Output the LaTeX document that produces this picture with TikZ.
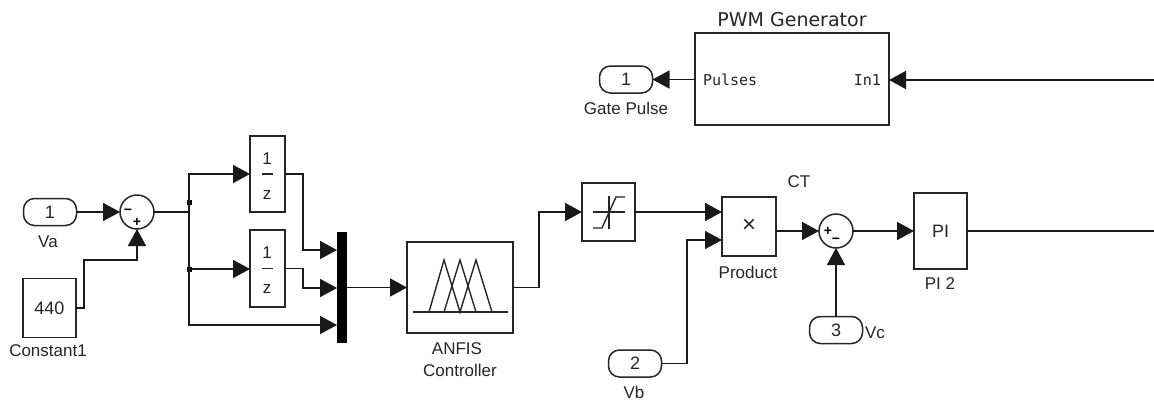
\documentclass[tikz,border=0pt]{standalone}
\usepackage{fontspec}
\setmainfont{Liberation Sans}
\newfontfamily\monofam{DejaVu Sans Mono}
\newfontfamily\dejafam{DejaVu Sans}
\usetikzlibrary{arrows.meta}
\tikzset{
  txt/.style={inner sep=0pt,outer sep=0pt,font=\fontsize{17}{17}\selectfont,text=black!85},
  blockbox/.style={draw=black!85,line width=1.8pt,inner sep=0pt,outer sep=0pt,font=\fontsize{18}{18}\selectfont,text=black!85},
  port/.style={blockbox,line width=1.5pt,rounded corners=11pt,minimum width=53pt,minimum height=27pt},
  sumc/.style={blockbox,line width=1.5pt,shape=circle,minimum size=34pt},
  sig/.style={line width=1.7pt,draw=black!90,-{Triangle[length=17pt,width=18pt]}},
  wire/.style={line width=1.7pt,draw=black!90},
  icon/.style={line width=1.4pt,draw=black!85},
  dot/.style={fill=black,inner sep=0pt,minimum size=5pt,outer sep=0pt},
  sgn/.style={inner sep=0pt,outer sep=0pt,font=\bfseries\fontsize{14}{14}\selectfont}
}
\begin{document}
\begin{tikzpicture}[x=1pt,y=-1pt]
\path[use as bounding box,fill=white] (0,0) rectangle (1154,400);
% blocks
\node[port] (va) at (50,212) {1};
\node[txt] (valab) at (48,242) {Va};
\node[blockbox,minimum width=53pt,minimum height=59pt] (const) at (49.5,308) {440};
\node[txt] (constlab) at (48,351) {Constant1};
\node[sumc] (s1) at (137,212) {};
\node[sgn] (s1m) at (128,212) {−};
\node[sgn] (s1p) at (137,222) {+};
\node[blockbox,minimum width=35pt,minimum height=76pt] (z1) at (267.5,174) {};
\node[blockbox,minimum width=35pt,minimum height=77pt] (z2) at (267.5,268.5) {};
\node[txt] (z1n) at (267,159) {1};
\node[txt] (z1d) at (267,195) {z};
\node[txt] (z2n) at (267,253) {1};
\node[txt] (z2d) at (267,289) {z};
\draw[icon] (z1.center) ++(-5.5,0) -- ++(11,0);
\draw[icon] (z2.center) ++(-5.5,0) -- ++(11,0);
\node[fill=black,inner sep=0pt,outer sep=0pt,minimum width=10pt,minimum height=111pt] (mux) at (342,287.5) {};
\node[blockbox,minimum width=106pt,minimum height=91pt] (anfis) at (460,287.5) {};
\draw[icon] (413,312) -- (508,312);
\draw[icon] (429,312) -- (444,260) -- (460,312) -- (476,260) -- (492,312);
\draw[icon] (444,312) -- (460,260) -- (476,312);
\node[txt] (anfislab1) at (457,349) {ANFIS};
\node[txt] (anfislab2) at (460,370) {Controller};
\node[blockbox,minimum width=53pt,minimum height=58pt] (sat) at (608.5,212) {};
\draw[icon] (593,212) -- (625,212);
\draw[icon] (609,196) -- (609,229);
\draw[icon] (593,228) -- (602,228) -- (616,197) -- (625,197);
\node[blockbox,minimum width=54pt,minimum height=59pt] (prod) at (749,226.5) {};
\node[txt,font=\fontsize{24}{24}\selectfont] (prodx) at (749,226) {×};
\node[txt] (prodlab) at (748,272) {Product};
\node[port] (vb) at (635,363.5) {2};
\node[txt] (vblab) at (634,392) {Vb};
\node[txt] (ct) at (799,182) {CT};
\node[sumc] (s2) at (836,231) {};
\node[sgn] (s2p) at (828,231) {+};
\node[sgn] (s2m) at (836,241) {−};
\node[port] (vc) at (836,330) {3};
\node[txt,anchor=west] (vclab) at (865,333) {Vc};
\node[blockbox,minimum width=53pt,minimum height=76pt] (pi) at (940.5,231) {PI};
\node[txt] (pilab) at (940,284) {PI 2};
\node[blockbox,minimum width=194pt,minimum height=92pt] (pwm) at (792,79) {};
\node[txt,font=\dejafam\fontsize{19}{19}\selectfont] (pwmlab) at (792,20) {PWM Generator};
\node[txt,anchor=west,font=\monofam\fontsize{15}{15}\selectfont] (pulses) at (703,80) {Pulses};
\node[txt,anchor=east,font=\monofam\fontsize{15}{15}\selectfont] (in1) at (881,80) {In1};
\node[port] (gate) at (626,79.5) {1};
\node[txt] (gatelab) at (626,108) {Gate Pulse};
% free coordinates
\coordinate (right1) at (1154,80);
\coordinate (right2) at (1154,231);
\coordinate (br) at (189,212);
\node[dot] (j1) at (189,202) {};
\node[dot] (j2) at (189,269) {};
\coordinate (z1in) at (z1.west);
\coordinate (z2in) at (z2.west |- j2);
\coordinate (m1) at (337,250);
\coordinate (m2) at (337,288);
\coordinate (m3) at (337,325);
\coordinate (p1) at (722,212);
\coordinate (p2) at (722,240);
% connectors
\draw[sig] (va.east) -- (s1.west);
\draw[sig] (const.east) -- (84,308) -- (84,260) -- (137,260) -- (s1.south);
\draw[wire] (s1.east) -- (br);
\draw[sig] (br) -- (189,174) -- (z1in);
\draw[sig] (j2) -- (z2in);
\draw[sig] (br) -- (189,325) -- (m3);
\draw[sig] (z1.east) -- (303,174) -- (303,250) -- (m1);
\draw[sig] (z2.east) -- (303,268.5) -- (303,288) -- (m2);
\draw[sig] (mux.east) -- (anfis.west);
\draw[sig] (anfis.east) -- (539,287.5) -- (539,212) -- (sat.west);
\draw[sig] (sat.east) -- (p1);
\draw[sig] (vb.east) -- (687,363.5) -- (687,240) -- (p2);
\draw[sig] (prod.east |- s2.west) -- (s2.west);
\draw[sig] (s2.east) -- (pi.west);
\draw[sig] (vc.north) -- (s2.south);
\draw[wire] (pi.east) -- (right2);
\draw[sig] (right1) -- (pwm.east |- right1);
\draw[sig] (pwm.west |- gate.east) -- (gate.east);
\end{tikzpicture}
\end{document}
